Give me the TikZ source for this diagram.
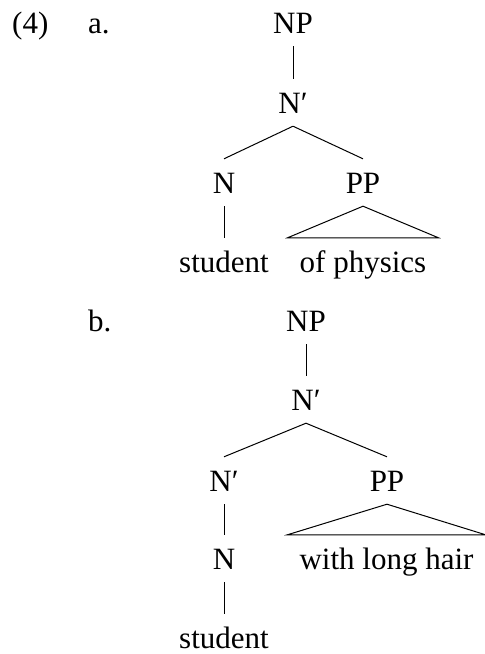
\documentclass[tikz,border=0pt]{standalone}
\usepackage{fontspec}
\setmainfont{Liberation Serif}
\usepackage{tikz}
\tikzset{
  cat/.style={inner xsep=0pt,inner ysep=13pt,text height=21pt,text depth=0pt,anchor=base},
  phrase/.style={cat,inner xsep=12pt},
  exlabel/.style={inner sep=0pt,anchor=base west},
  branch/.style={line width=1pt}
}
\begin{document}
\begin{tikzpicture}[x=1pt,y=-1pt,font=\fontsize{31}{36}\selectfont]
    \useasboundingbox (0,0) rectangle (485,654);
    % example labels
    \node[exlabel] (exnum) at (12,33) {(4)};
    \node[exlabel] (exa) at (88,33) {a.};
    \node[exlabel] (exb) at (88,331) {b.};
    % tree a
    \node[cat] (npa) at (293,33) {NP};
    \node[cat] (nbara) at (293,113) {N′};
    \node[cat] (na) at (224,193) {N};
    \node[cat] (ppa) at (363,193) {PP};
    \node[cat] (studa) at (224,272) {student};
    \node[phrase] (physa) at (363,272) {of physics};
    \draw[branch] (npa)--(nbara);
    \draw[branch] (nbara.south)--(na.north);
    \draw[branch] (nbara.south)--(ppa.north);
    \draw[branch] (na)--(studa);
    \draw[branch] (ppa.south)--(physa.north east)--(physa.north west)--cycle;
    % tree b
    \node[cat] (npb) at (306,331) {NP};
    \node[cat] (nbarb) at (306,410) {N′};
    \node[cat] (nbarbb) at (224,491) {N′};
    \node[cat] (ppb) at (387,491) {PP};
    \node[cat] (nb) at (224,569) {N};
    \node[phrase] (hairb) at (386.5,569) {with long hair};
    \node[cat] (studb) at (224,648) {student};
    \draw[branch] (npb)--(nbarb);
    \draw[branch] (nbarb.south)--(nbarbb.north);
    \draw[branch] (nbarb.south)--(ppb.north);
    \draw[branch] (nbarbb)--(nb);
    \draw[branch] (nb)--(studb);
    \draw[branch] (ppb.south)--(hairb.north east)--(hairb.north west)--cycle;
\end{tikzpicture}
\end{document}
